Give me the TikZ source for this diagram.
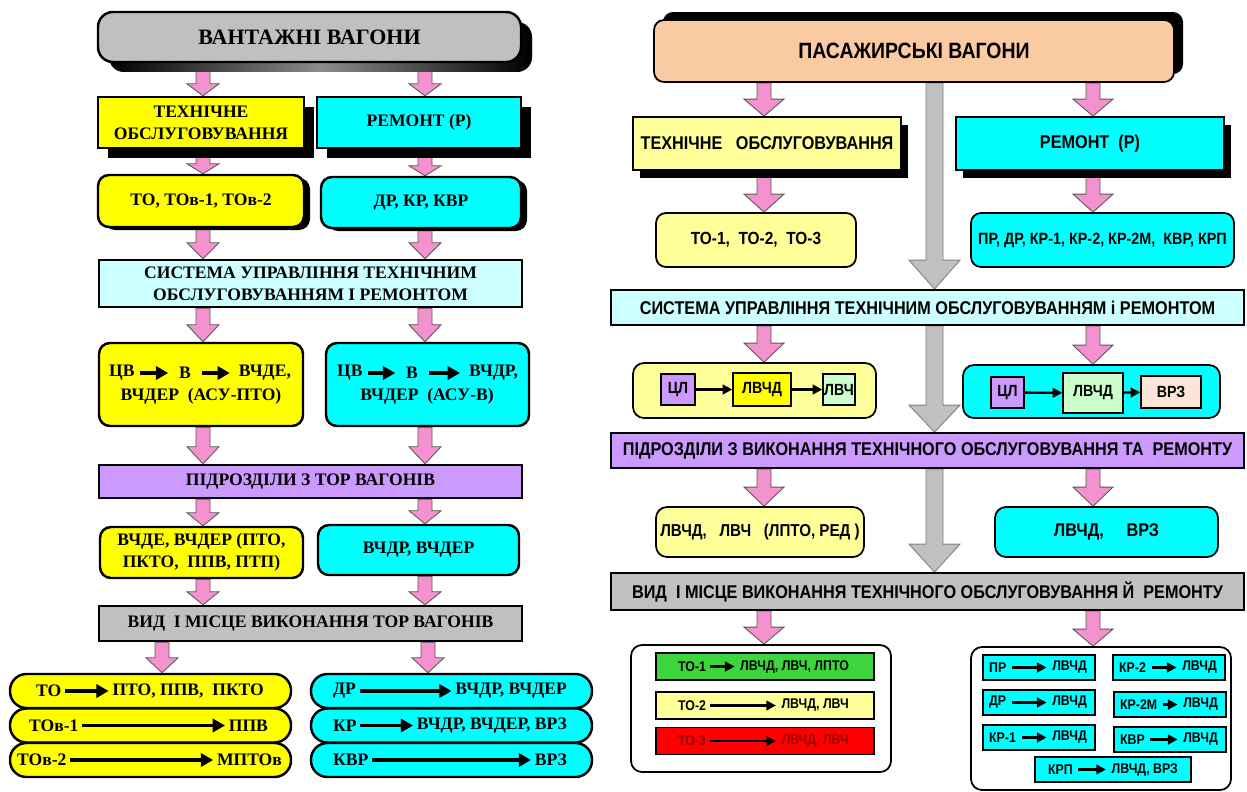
\documentclass[tikz,border=0pt]{standalone}
\usepackage{fontspec}
\setmainfont{Liberation Serif}
\newfontfamily\rfont[FakeStretch=0.88]{Liberation Sans}
\usetikzlibrary{calc,shadows,backgrounds,arrows.meta}
\definecolor{pinkA}{RGB}{243,146,206}
\definecolor{grayA}{RGB}{192,192,192}
\definecolor{cyanA}{RGB}{0,255,255}
\definecolor{yelA}{RGB}{255,255,0}
\definecolor{lcyan}{RGB}{204,255,255}
\definecolor{lilac}{RGB}{204,153,255}
\definecolor{peach}{RGB}{250,203,162}
\definecolor{lyel}{RGB}{255,255,153}
\definecolor{lgreen}{RGB}{204,255,204}
\definecolor{skin}{RGB}{252,228,214}
\definecolor{grn}{RGB}{60,214,60}
\definecolor{redA}{RGB}{255,0,0}
\definecolor{dred}{RGB}{150,0,0}
% стрілка-блок: стиль, колонка, від, до, пів ширини ствола, пів ширини голови, довжина голови
\newcommand\blockarr[7]{%
  \path (#3.south -| #2) coordinate (ba-t) (#4.north -| #2) coordinate (ba-b);
  \filldraw[#1] ($(ba-t)+(-#5,0)$) -- ($(ba-b)+(-#5,-#7)$) -- ($(ba-b)+(-#6,-#7)$) -- (ba-b)
    -- ($(ba-b)+(#6,-#7)$) -- ($(ba-b)+(#5,-#7)$) -- ($(ba-t)+(#5,0)$) -- cycle;
}
\begin{document}
\begin{tikzpicture}[x=0.02cm,y=-0.02cm,
  sz/.style 2 args={minimum width=#1*0.02cm,minimum height=#2*0.02cm,inner sep=0pt},
  lbox/.style={draw,line width=1.4pt,align=center,font=\bfseries\fontsize{10}{12.5}\selectfont},
  rbox/.style={draw,line width=1pt,align=center,font=\rfont\bfseries\fontsize{10.5}{12}\selectfont},
  rsm/.style={draw,line width=0.8pt,font=\rfont\bfseries\fontsize{9.2}{11}\selectfont},
  ltxt/.style={font=\bfseries\fontsize{10}{12}\selectfont,inner sep=1pt},
  rtxt/.style={font=\rfont\bfseries\fontsize{8}{10}\selectfont,inner sep=1pt},
  rnd/.style={rounded corners=0.22cm},
  shTop/.style={drop shadow={opacity=1,left color=black,right color=black,middle color=black!45,shadow xshift=0.22cm,shadow yshift=-0.2cm}},
  shBig/.style={drop shadow={opacity=1,fill=black,shadow xshift=0.2cm,shadow yshift=-0.2cm}},
  shSm/.style={drop shadow={opacity=1,fill=black,shadow xshift=0.12cm,shadow yshift=-0.06cm}},
  shR/.style={drop shadow={opacity=1,fill=black,shadow xshift=0.14cm,shadow yshift=-0.16cm}},
  shUp/.style={drop shadow={opacity=1,fill=black,shadow xshift=0.18cm,shadow yshift=0.16cm}},
  boldarr/.style={-{Triangle[length=7pt,width=7.5pt]},line width=2pt,shorten >=1pt,shorten <=1pt},
  rarr/.style={-{Triangle[length=5.5pt,width=5.5pt]},line width=1.3pt},
  pinkarr/.style={fill=pinkA,draw=gray!70!black,line width=0.5pt},
  grayarr/.style={fill=grayA,draw=gray,line width=0.5pt}]
\useasboundingbox (0,0) rectangle (1247,791);
% вантажні вагони
\node[lbox,fill=grayA,rounded corners=0.3cm,sz={423}{50},shTop,font=\bfseries\fontsize{12.5}{15}\selectfont] (titleL) at (309.5,37) {ВАНТАЖНІ ВАГОНИ};
\node[lbox,fill=yelA,sz={206}{51},shBig] (techL) at (201,122.5) {ТЕХНІЧНЕ\\ОБСЛУГОВУВАННЯ};
\node[lbox,fill=cyanA,sz={204}{51},shBig] (repL) at (419,122.5) {РЕМОНТ (Р)};
\node[lbox,fill=yelA,rnd,sz={206}{52},shSm] (toL) at (201,201) {ТО, ТОв-1, ТОв-2};
\node[lbox,fill=cyanA,rnd,sz={200}{51},shSm] (drL) at (421,202.5) {ДР, КР, КВР};
\node[lbox,fill=lcyan,sz={423}{47}] (sysL) at (310.5,283.5) {СИСТЕМА УПРАВЛІННЯ ТЕХНІЧНИМ\\ОБСЛУГОВУВАННЯМ І РЕМОНТОМ};
\node[lbox,fill=yelA,rnd,sz={204}{83}] (cvL) at (201,384.5) {};
\node[lbox,fill=cyanA,rnd,sz={203}{83}] (cvR) at (427.5,384.5) {};
\node[ltxt,anchor=west] (cvL1) at (107,373) {ЦВ};
\node[ltxt] (cvL2) at (185,373) {В};
\node[ltxt,anchor=east] (cvL3) at (293,373) {ВЧДЕ,};
\node[ltxt] (cvL4) at (201,396) {ВЧДЕР\ \ (АСУ-ПТО)};
\node[ltxt,anchor=west] (cvR1) at (335,373) {ЦВ};
\node[ltxt] (cvR2) at (412,373) {В};
\node[ltxt,anchor=east] (cvR3) at (520,373) {ВЧДР,};
\node[ltxt] (cvR4) at (427,396) {ВЧДЕР\ \ (АСУ-В)};
\draw[boldarr,shorten <=2pt,shorten >=5pt] (cvL1) -- (cvL2);
\draw[boldarr,shorten <=5pt,shorten >=4pt] (cvL2) -- (cvL3);
\draw[boldarr,shorten <=2pt,shorten >=5pt] (cvR1) -- (cvR2);
\draw[boldarr,shorten <=5pt,shorten >=4pt] (cvR2) -- (cvR3);
\node[lbox,fill=lilac,sz={423}{33}] (podL) at (310.5,481.5) {ПІДРОЗДІЛИ З ТОР ВАГОНІВ};
\node[lbox,fill=yelA,rnd,sz={203}{51}] (vchL) at (201.5,552.5) {ВЧДЕ, ВЧДЕР (ПТО,\\ПКТО,\ \ ППВ, ПТП)};
\node[lbox,fill=cyanA,rnd,sz={201}{50}] (vchR) at (418.5,550) {ВЧДР, ВЧДЕР};
\node[lbox,fill=grayA,sz={423}{35}] (vidL) at (310.5,623.5) {ВИД\ \ І МІСЦЕ ВИКОНАННЯ ТОР ВАГОНІВ};
\foreach \n/\y/\a/\ta/\b/\tb in {1/691/34/ТО/266/{ПТО, ППВ,\ \ ПКТО},2/725.5/27/ТОв-1/270/ППВ,3/760/15/ТОв-2/284/МПТОв}{
  \node[lbox,fill=yelA,rounded corners=0.33cm,sz={281}{34}] (yb\n) at (150.5,\y) {};
  \node[ltxt,anchor=west] (ya\n) at (\a,\y) {\ta};
  \node[ltxt,anchor=east] (yz\n) at (\b,\y) {\tb};
  \draw[boldarr] (ya\n) -- (yz\n);
}
\foreach \n/\y/\ta/\tb in {1/691/ДР/{ВЧДР, ВЧДЕР},2/725.5/КР/{ВЧДР, ВЧДЕР, ВРЗ},3/760/КВР/ВРЗ}{
  \node[lbox,fill=cyanA,rounded corners=0.33cm,sz={281}{34}] (cb\n) at (451.5,\y) {};
  \node[ltxt,anchor=west] (ca\n) at (331,\y) {\ta};
  \node[ltxt,anchor=east] (cz\n) at (569,\y) {\tb};
  \draw[boldarr] (ca\n) -- (cz\n);
}
% пасажирські вагони
\node[rbox,fill=peach,rounded corners=0.2cm,sz={520}{62},shUp,font=\rfont\bfseries\fontsize{12.6}{14}\selectfont] (titleR) at (914,51) {ПАСАЖИРСЬКІ ВАГОНИ};
\node[rbox,fill=lyel,sz={268}{53},shR] (techR) at (767,143.5) {ТЕХНІЧНЕ\ \ \ ОБСЛУГОВУВАННЯ};
\node[rbox,fill=cyanA,sz={268}{53},shR] (repR) at (1090,143.5) {РЕМОНТ\ \ (Р)};
\node[rbox,fill=lyel,rounded corners=0.2cm,sz={200}{54},font=\rfont\bfseries\fontsize{10}{12}\selectfont] (toR) at (756,240) {ТО-1,\ \ ТО-2,\ \ ТО-3};
\node[rbox,fill=cyanA,rounded corners=0.2cm,sz={263}{54},font=\rfont\bfseries\fontsize{9.3}{10}\selectfont] (prR) at (1102.5,240) {ПР, ДР, КР-1, КР-2, КР-2М,\ \ КВР, КРП};
\node[rbox,fill=lcyan,sz={633}{35}] (sysR) at (927.5,307.5) {СИСТЕМА УПРАВЛІННЯ ТЕХНІЧНИМ ОБСЛУГОВУВАННЯМ і РЕМОНТОМ};
\node[rbox,fill=lyel,rnd,sz={243}{55}] (clL) at (754.5,390.5) {};
\node[rsm,fill=lilac,sz={34}{31}] (clL1) at (678,389.5) {ЦЛ};
\node[rsm,fill=yelA,sz={58}{33}] (clL2) at (762,389.5) {ЛВЧД};
\node[rsm,fill=lgreen,sz={32}{31}] (clL3) at (839,389.5) {ЛВЧ};
\draw[rarr] (clL1) -- (clL2);
\draw[rarr] (clL2) -- (clL3);
\node[rbox,fill=cyanA,rnd,sz={257}{53}] (clR) at (1091.5,391.5) {};
\node[rsm,fill=lilac,sz={33}{31}] (clR1) at (1007.5,392.5) {ЦЛ};
\node[rsm,fill=lgreen,sz={60}{40}] (clR2) at (1093,393) {ЛВЧД};
\node[rsm,fill=skin,sz={60}{32}] (clR3) at (1171,392) {ВРЗ};
\draw[rarr] (clR1) -- (clR2);
\draw[rarr] (clR2) -- (clR3);
\node[rbox,fill=lilac,sz={633}{35}] (podR) at (927.5,450.5) {ПІДРОЗДІЛИ З ВИКОНАННЯ ТЕХНІЧНОГО ОБСЛУГОВУВАННЯ ТА\ \ РЕМОНТУ};
\node[rbox,fill=lyel,rnd,sz={208}{50},font=\rfont\bfseries\fontsize{9.8}{12}\selectfont] (lvL) at (760,532) {ЛВЧД,\ \ \ ЛВЧ\ \ \ (ЛПТО, РЕД )};
\node[rbox,fill=cyanA,rnd,sz={223}{50}] (lvR) at (1106.5,532) {ЛВЧД,\ \ \ \ \ ВРЗ};
\node[rbox,fill=grayA,sz={633}{37}] (vidR) at (927.5,591.5) {ВИД\ \ І МІСЦЕ ВИКОНАННЯ ТЕХНІЧНОГО ОБСЛУГОВУВАННЯ Й\ \ РЕМОНТУ};
\node[rbox,fill=white,rnd,sz={260}{127}] (ctL) at (761,708.5) {};
\node[rbox,fill=white,rnd,sz={260}{143}] (ctR) at (1101,718.5) {};
\foreach \n/\y/\c/\t/\ta/\tb in {1/666.5/grn/black/ТО-1/{ЛВЧД, ЛВЧ, ЛПТО},2/705.5/lyel/black/ТО-2/{ЛВЧД, ЛВЧ},3/741/redA/dred/ТО-3/{ЛВЧД, ЛВЧ}}{
  \node[draw,line width=0.8pt,fill=\c,sz={218}{27}] (tb\n) at (765,\y) {};
  \node[rtxt,text=\t,anchor=west] (ta\n) at (676,\y) {\ta};
  \node[rtxt,text=\t,anchor=east] (tz\n) at (851,\y) {\tb};
  \draw[rarr,shorten <=1pt,shorten >=2pt] (ta\n) -- (tz\n);
}
\foreach \x/\y/\ta [count=\n] in {983/667.5/ПР,1113/667.5/КР-2,983/702.5/ДР,1114/704.5/КР-2М,983/737.5/КР-1,1114/739.5/КВР}{
  \node[draw,line width=0.8pt,fill=cyanA,sz={112}{25}] (pb\n) at (\x+56,\y) {};
  \node[rtxt,anchor=west] (pa\n) at (\x+4,\y) {\ta};
  \node[rtxt,anchor=east] (pz\n) at (\x+106,\y) {ЛВЧД};
  \draw[rarr,shorten <=2pt,shorten >=2pt] (pa\n) -- (pz\n);
}
\node[draw,line width=0.8pt,fill=cyanA,sz={156}{25}] (kb) at (1113,769.5) {};
\node[rtxt,anchor=west] (ka) at (1046,769.5) {КРП};
\node[rtxt,anchor=east] (kz) at (1180,769.5) {ЛВЧД, ВРЗ};
\draw[rarr,shorten <=2pt,shorten >=2pt] (ka) -- (kz);
% стрілки
\coordinate (cL) at (203,0);
\coordinate (cR) at (425,0);
\coordinate (cL8) at (162,0);
\coordinate (cR8) at (428,0);
\coordinate (dL) at (764,0);
\coordinate (dR) at (1093,0);
\coordinate (dG) at (934.5,0);
\begin{scope}[on background layer]
\fill[white] (0,0) rectangle (1247,791);
\foreach \c/\a/\b/\h in {cL/titleL/techL/12,cR/titleL/repL/12,cL/techL/toL/10,cR/repL/drL/10,
  cL/toL/sysL/16,cR/drL/sysL/16,cL/sysL/cvL/17,cR/sysL/cvR/17,cL/cvL/podL/17,cR/cvR/podL/17,
  cL/podL/vchL/13,cR/podL/vchR/13,cL/vchL/vidL/13,cR/vchR/vidL/13,cL8/vidL/yb1/15,cR8/vidL/cb1/15}
  \blockarr{pinkarr}{\c}{\a}{\b}{7}{16}{\h};
\foreach \c/\a/\b/\h in {dL/titleR/techR/17,dR/titleR/repR/17,dL/techR/toR/18,dR/repR/prR/18,
  dL/sysR/clL/19,dR/sysR/clR/19,dL/podR/lvL/19,dR/podR/lvR/19,dL/vidR/ctL/17,dR/vidR/ctR/17}
  \blockarr{pinkarr}{\c}{\a}{\b}{7}{20}{\h};
\foreach \a/\b/\h in {titleR/sysR/29,sysR/podR/27,podR/vidR/28}
  \blockarr{grayarr}{dG}{\a}{\b}{8.5}{25.5}{\h};
\end{scope}
\end{tikzpicture}
\end{document}
